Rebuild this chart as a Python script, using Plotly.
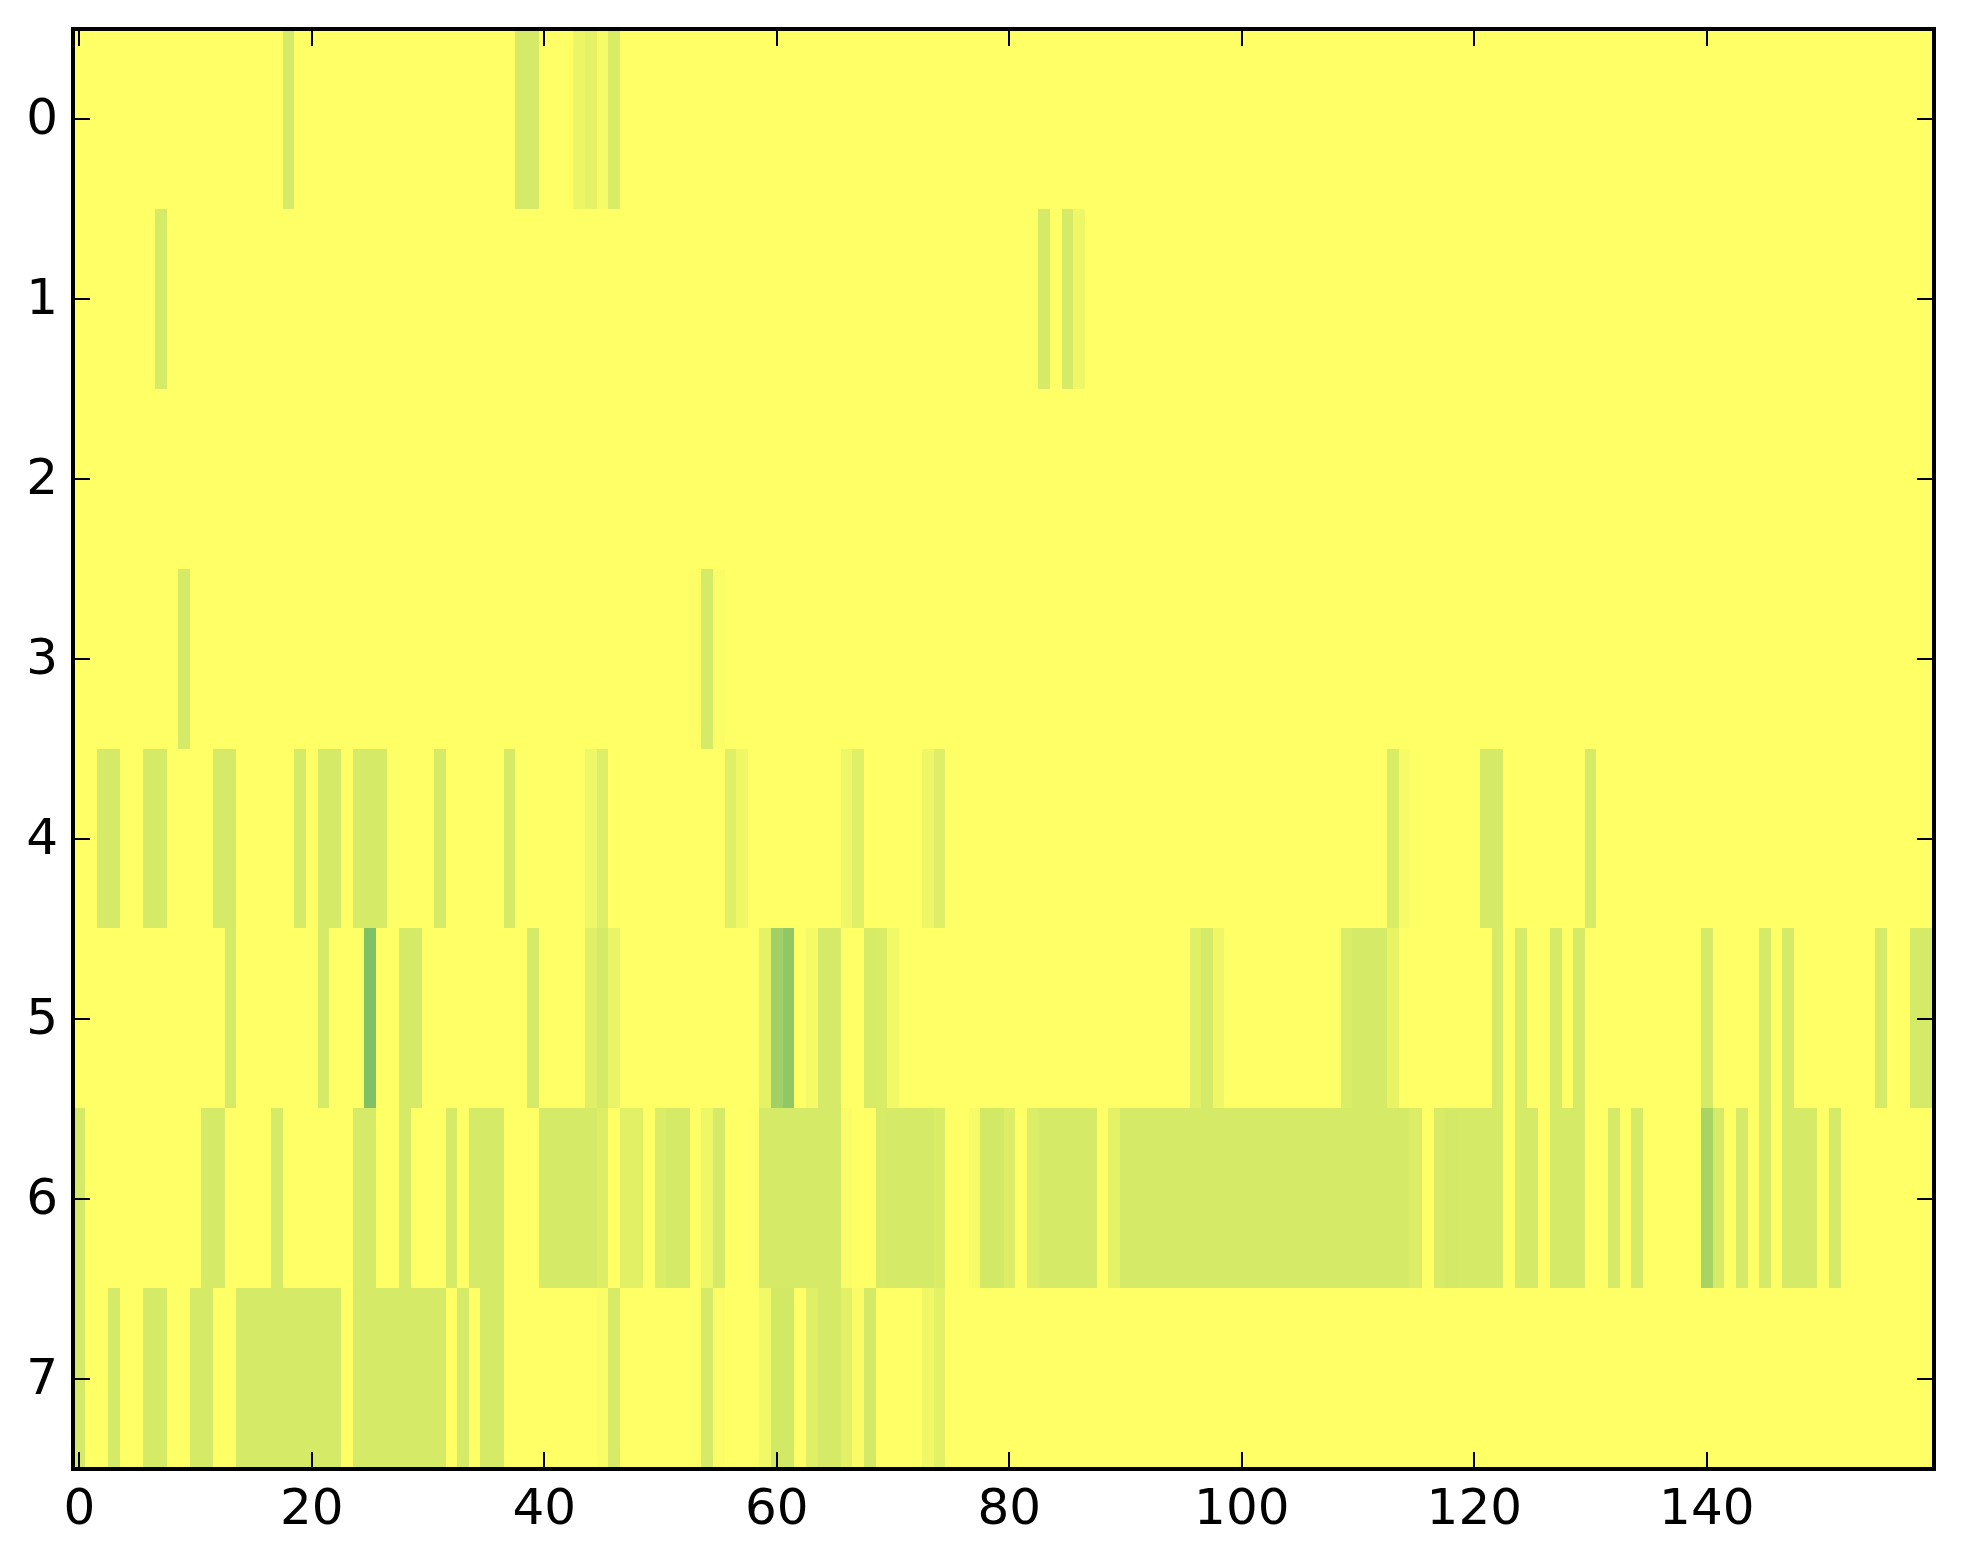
import plotly.graph_objects as go

# Colour-scale value of the common light-green cell
B = 0.165

row0_cols = [18, 38, 39, 43, 44, 45, 46]
row0_vals = [B, B, B, 0.08, 0.10, 0.035, 0.15]

row1_cols = [7, 83, 85, 86]
row1_vals = [B, B, B, 0.065]

row2_cols = []
row2_vals = []

row3_cols = [9, 53, 54, 55]
row3_vals = [B, 0.008, B, 0.015]

row4_cols = [2, 3, 6, 7, 12, 13, 19, 21, 22, 24, 25, 26, 31, 37, 44, 45, 56, 57, 66, 67, 73, 74,
             113, 114, 121, 122, 130]
row4_vals = [B, B, B, B, B, B, B, B, B, B, B, B, B, B, 0.065, 0.13, 0.125, 0.06, 0.065, 0.125, 0.06, 0.13,
             0.15, 0.035, B, B, B]

row5_cols = [13, 21, 25, 28, 29, 39, 44, 45, 46, 59, 60, 61, 63, 64, 65, 68, 69, 70,
             96, 97, 98, 109, 110, 111, 112, 113, 122, 124, 127, 129, 140, 145, 147, 155, 158, 159]
row5_vals = [B, B, 0.50, B, B, B, 0.12, B, 0.085, 0.105, 0.37, 0.43, 0.04, B, B, 0.16, 0.15, 0.05,
             0.125, B, 0.06, 0.145, B, B, B, 0.09, B, B, B, B, B, B, B, B, B, B]

row6_cols = [0, 11, 12, 17, 24, 25, 28, 32, 34, 35, 36, 40, 41, 42, 43, 44, 45, 47, 48, 50, 51, 52, 54, 55, 58,
             59, 60, 61, 62, 63, 64, 65, 66, 69, 70, 71, 72, 73, 74, 77, 78, 79, 80, 82, 83, 84, 85, 86, 87, 89,
             90, 91, 92, 93, 94, 95, 96, 97, 98, 99, 100, 101, 102, 103, 104, 105, 106, 107, 108, 109, 110, 111,
             112, 113, 114, 115, 117, 118, 119, 120, 121, 122, 124, 125, 127, 128, 129, 132, 134, 140, 141, 143,
             145, 147, 148, 149, 151]
row6_vals = [B, B, B, B, B, B, B, B, B, B, B, B, B, B, B, B, 0.135, 0.115, 0.115, 0.14, B, B, 0.065, B, 0.008,
             B, B, B, B, B, B, B, 0.025, 0.155, B, B, B, B, 0.15, 0.03, 0.175, 0.175, 0.135, 0.135, B, B, B, B, B, 0.10,
             B, B, B, B, B, B, B, B, B, B, B, B, B, B, B, B, B, B, B, B, B, B,
             B, B, B, 0.135, 0.155, 0.17, B, B, B, B, B, B, B, B, B, B, B, 0.34, B, B,
             B, B, B, B, B]

row7_cols = [0, 3, 6, 7, 10, 11, 14, 15, 16, 17, 18, 19, 20, 21, 22, 24, 25, 26, 27, 28, 29, 30, 31, 33, 35, 36,
             45, 46, 53, 54, 55, 59, 60, 61, 63, 64, 65, 66, 67, 68, 73, 74]
row7_vals = [B, B, B, B, B, B, B, B, B, B, B, B, B, B, B, B, B, B, B, B, B, B, B, B, B, B,
             0.015, 0.155, 0.004, B, 0.012, 0.05, 0.175, 0.175, 0.12, B, B, 0.11, 0.025, 0.17, 0.055, 0.11]

row_cols = [row0_cols, row1_cols, row2_cols, row3_cols, row4_cols, row5_cols, row6_cols, row7_cols]
row_vals = [row0_vals, row1_vals, row2_vals, row3_vals, row4_vals, row5_vals, row6_vals, row7_vals]

N_COLS = 160
x_ticks = [0, 20, 40, 60, 80, 100, 120, 140]
y_ticks = [0, 1, 2, 3, 4, 5, 6, 7]

z = []
for cols, vals in zip(row_cols, row_vals):
    row = [0.0] * N_COLS
    for c, v in zip(cols, vals):
        row[c] = v
    z.append(row)

fig = go.Figure(go.Heatmap(
    z=z,
    x=list(range(N_COLS)),
    y=y_ticks,
    zmin=0,
    zmax=1,
    colorscale=[[0, "rgb(255,255,102)"], [1, "rgb(0,128,102)"]],
    showscale=False,
    hoverongaps=False,
))

axis_style = dict(
    showgrid=False,
    zeroline=False,
    showline=True,
    linecolor="black",
    linewidth=4,
    mirror="ticks",
    ticks="inside",
    ticklen=15,
    tickwidth=2,
    tickcolor="black",
    tickfont=dict(family="DejaVu Sans", size=50, color="black"),
)

fig.update_xaxes(range=[-0.371, 159.371], tickmode="array", tickvals=x_ticks,
                 ticktext=[str(t) for t in x_ticks], ticklabelstandoff=-7, **axis_style)
fig.update_yaxes(range=[7.4917, -0.489], tickmode="array", tickvals=y_ticks,
                 ticktext=[str(t) for t in y_ticks], ticklabelstandoff=3, ticklabelshift=2, **axis_style)

fig.update_layout(
    width=1955,
    height=1556,
    margin=dict(l=67, r=31, t=23, b=97, pad=0),
    paper_bgcolor="white",
    plot_bgcolor="rgb(255,255,102)",
    showlegend=False,
)

fig.write_html("out.html")
